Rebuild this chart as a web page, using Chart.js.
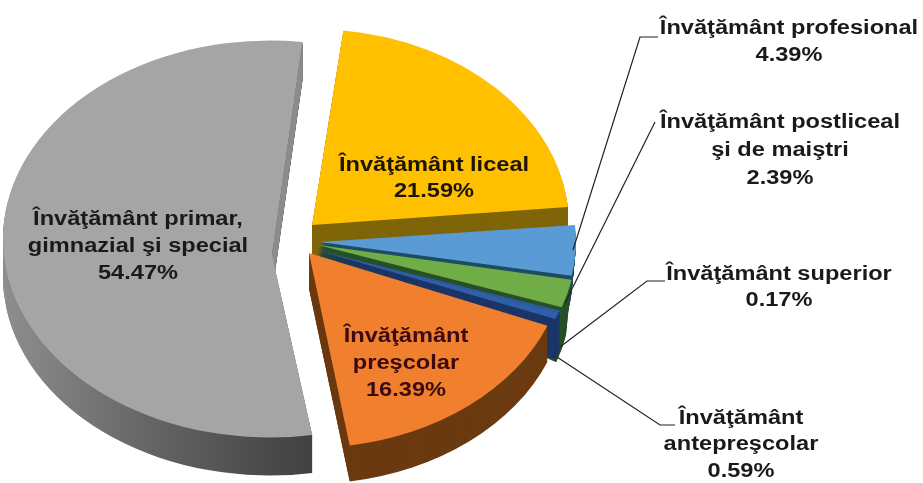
<!DOCTYPE html>
<html><head><meta charset="utf-8">
<style>html,body{margin:0;padding:0;background:#fff}canvas{display:block}</style>
<script src="https://cdn.jsdelivr.net/npm/chart.js@4"></script>
</head><body><canvas id="c" width="923" height="483"></canvas>
<script>
const categories = ["Învăţământ liceal","Învăţământ profesional","Învăţământ postliceal şi de maiştri","Învăţământ superior","Învăţământ antepreşcolar","Învăţământ preşcolar","Învăţământ primar, gimnazial şi special"];
const shares = [21.59,4.39,2.39,0.17,0.59,16.39,54.47];
const topColors = ["#FFC000","#5B9BD5","#70AD47","#2F5FA8","#2F5FA8","#F07F2E","#A5A5A5"];
const sideColors = ["#7F6508","#1D4D63","#27502A","#1A3566","#1A3566","#6B3A10",null];
const views = [
 {ax:312,ay:225,cx:312,cy:225,rx:257,ry:196,depth:36,lean:0},
 {ax:320,ay:242,cx:320,cy:242,rx:256,ry:184,depth:36,lean:-0.1},
 {ax:318,ay:245,cx:318,cy:245,rx:258,ry:190,depth:55,lean:-0.1},
 {ax:316,ay:250,cx:316,cy:250,rx:258,ry:185,depth:40,lean:0},
 {ax:316,ay:250,cx:316,cy:250,rx:258,ry:185,depth:40,lean:0},
 {ax:309,ay:253,cx:309,cy:253,rx:257,ry:195,depth:36,lean:0},
 {ax:272,ay:255,cx:270,cy:239,rx:267,ry:198.5,depth:38,lean:0,cutFace:"#8C8C8C"}
];
const labelLines = [
 {lines:["Învăţământ liceal","21.59%"],x:434,y:[165,191],color:"#1C1405"},
 {lines:["Învăţământ profesional","4.39%"],x:789,y:[28,55],color:"#1A1A1A"},
 {lines:["Învăţământ postliceal","şi de maiştri","2.39%"],x:780,y:[122,150,178],color:"#1A1A1A"},
 {lines:["Învăţământ superior","0.17%"],x:779,y:[274,300],color:"#1A1A1A"},
 {lines:["Învăţământ","antepreşcolar","0.59%"],x:741,y:[418,444,471],color:"#1A1A1A"},
 {lines:["Învăţământ","preşcolar","16.39%"],x:406,y:[336,363,390],color:"#3A0A10"},
 {lines:["Învăţământ primar,","gimnazial şi special","54.47%"],x:138,y:[219,246,273],color:"#1A1A1A"}
];
const leaders = [
 [[658,37],[640,37],[573,250]],
 [[655,122],[565,303]],
 [[665,281],[647,281],[560,347]],
 [[675,425],[660,425],[557,357]]
];
const pie3d = {
 id:"pie3d",
 beforeDatasetDraw(chart,args){
  const ctx=chart.ctx, arcs=args.meta.data;
  arcs.forEach((arc,i)=>{
   const v=views[i];
   const path=(d)=>{
    const ox=d*v.lean;
    ctx.beginPath();
    ctx.moveTo(v.ax,v.ay+(v.lean?Math.min(d,14):d));
    ctx.ellipse(v.cx+ox,v.cy+d,v.rx,v.ry,0,arc.startAngle,arc.endAngle);
    ctx.closePath();
   };
   let side=sideColors[i];
   if(!side){
    const g=ctx.createLinearGradient(v.cx-v.rx,0,v.cx+40,0);
    g.addColorStop(0,"#8E8E8E");g.addColorStop(.5,"#636363");g.addColorStop(1,"#414141");
    side=g;
   }
   ctx.fillStyle=side;
   for(let d=v.depth;d>=1;d--){path(d);ctx.fill();}
   if(v.cutFace){
    const ex=v.cx+v.rx*Math.cos(arc.endAngle), ey=v.cy+v.ry*Math.sin(arc.endAngle);
    ctx.fillStyle=v.cutFace;
    ctx.beginPath();
    ctx.moveTo(ex,ey);ctx.lineTo(v.ax,v.ay);ctx.lineTo(v.ax,v.ay+v.depth);ctx.lineTo(ex,ey+v.depth);
    ctx.closePath();ctx.fill();
   }
   ctx.fillStyle=topColors[i];
   path(0);ctx.fill();
  });
  return false;
 },
 afterDatasetsDraw(chart){
  const ctx=chart.ctx;
  ctx.save();
  ctx.strokeStyle="#222";ctx.lineWidth=1.2;
  leaders.forEach(l=>{ctx.beginPath();l.forEach((p,j)=>j?ctx.lineTo(p[0],p[1]):ctx.moveTo(p[0],p[1]));ctx.stroke();});
  ctx.textAlign="center";ctx.textBaseline="middle";
  ctx.font='bold 20px "Liberation Sans"';
  labelLines.forEach(l=>{
   ctx.fillStyle=l.color;
   l.lines.forEach((t,j)=>{
    ctx.save();ctx.translate(l.x,l.y[j]);ctx.scale(1.18,1);ctx.fillText(t,0,0);ctx.restore();
   });
  });
  ctx.restore();
 }
};
new Chart(document.getElementById("c"),{
 type:"pie",
 data:{labels:categories,datasets:[{data:shares,backgroundColor:topColors,borderWidth:0}]},
 options:{responsive:false,animation:false,rotation:7,radius:200,
  plugins:{legend:{display:false},tooltip:{enabled:false}}},
 plugins:[pie3d]
});
</script></body></html>
